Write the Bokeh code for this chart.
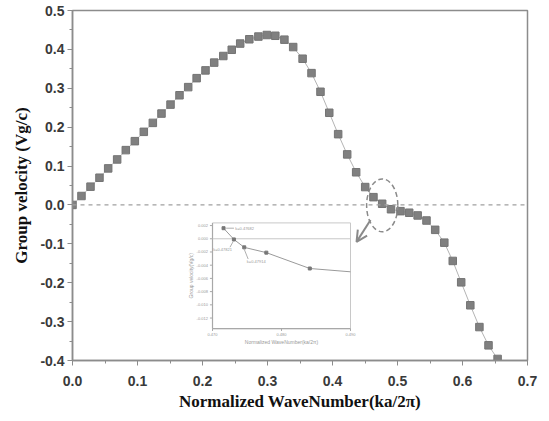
from bokeh.plotting import figure
from bokeh.models import Range1d, Span, Arrow, OpenHead, FixedTicker, NumeralTickFormatter, ColumnDataSource
from bokeh.core.properties import value
from bokeh.embed import file_html
from bokeh.resources import INLINE

# ---- main data ----
wavenumber = [0.0, 0.0138, 0.0277, 0.0415, 0.0549, 0.0687, 0.082, 0.0959, 0.1097, 0.1236,
              0.1369, 0.1508, 0.1646, 0.178, 0.191, 0.2046, 0.218, 0.232, 0.245, 0.258,
              0.272, 0.286, 0.299, 0.312, 0.326, 0.3395, 0.354, 0.3677, 0.3815, 0.395,
              0.4087, 0.4226, 0.4364, 0.4503, 0.463, 0.4764, 0.490, 0.5046, 0.518, 0.531,
              0.5446, 0.558, 0.572, 0.585, 0.598, 0.612, 0.626, 0.640, 0.654]
group_velocity = [0.0, 0.023, 0.047, 0.070, 0.094, 0.117, 0.141, 0.164, 0.188, 0.211,
                  0.235, 0.258, 0.282, 0.303, 0.326, 0.346, 0.366, 0.383, 0.399, 0.415,
                  0.426, 0.433, 0.437, 0.435, 0.425, 0.406, 0.376, 0.339, 0.291, 0.237,
                  0.182, 0.130, 0.084, 0.046, 0.020, 0.003, -0.011, -0.016, -0.020, -0.027,
                  -0.040, -0.064, -0.097, -0.144, -0.199, -0.258, -0.314, -0.361, -0.396]
x_ticks = [0.0, 0.1, 0.2, 0.3, 0.4, 0.5, 0.6, 0.7]
x_minor = [0.05, 0.15, 0.25, 0.35, 0.45, 0.55, 0.65]
y_ticks = [-0.4, -0.3, -0.2, -0.1, 0.0, 0.1, 0.2, 0.3, 0.4, 0.5]
y_minor = [-0.35, -0.25, -0.15, -0.05, 0.05, 0.15, 0.25, 0.35, 0.45]

# ---- inset data (zoom of the zero crossing) ----
inset_x = [0.4716, 0.4731, 0.4746, 0.4778, 0.4841, 0.4900]
inset_y = [0.0016, -0.0001, -0.0013, -0.0021, -0.0045, -0.0050]
inset_marked = [True, True, True, True, True, False]
inset_xticks = [0.470, 0.480, 0.490]
inset_yticks = [0.002, 0.000, -0.002, -0.004, -0.006, -0.008, -0.010, -0.012]
inset_point_labels = ["k=0.47682", "k=0.47821", "k=0.47914"]
inset_xlim = (0.470, 0.490)
inset_ylim = (-0.0136, 0.0024)

p = figure(width=541, height=413, x_range=Range1d(0, 0.7), y_range=Range1d(-0.4, 0.5),
           output_backend="svg", toolbar_location=None,
           min_border_left=72, min_border_right=14, min_border_top=10, min_border_bottom=51)

p.xgrid.visible = False
p.ygrid.visible = False
p.outline_line_color = "#8c8c8c"
p.outline_line_width = 1.5
p.background_fill_color = "white"
p.border_fill_color = "white"

p.xaxis.ticker = FixedTicker(ticks=x_ticks, minor_ticks=x_minor)
p.yaxis.ticker = FixedTicker(ticks=y_ticks, minor_ticks=y_minor)
p.xaxis.formatter = NumeralTickFormatter(format="0.0")
p.yaxis.formatter = NumeralTickFormatter(format="0.0")

for ax in (p.xaxis[0], p.yaxis[0]):
    ax.axis_line_color = "#8c8c8c"
    ax.axis_line_width = 1.5
    ax.major_tick_line_color = "#8c8c8c"
    ax.minor_tick_line_color = "#8c8c8c"
    ax.major_tick_out = 5
    ax.major_tick_in = 0
    ax.minor_tick_out = 3
    ax.minor_tick_in = 0
    ax.major_label_text_font = "Liberation Sans"
    ax.major_label_text_font_style = "bold"
    ax.major_label_text_font_size = "14px"
    ax.major_label_text_color = "#3a3a3a"
    ax.axis_label_text_font = "Liberation Serif"
    ax.axis_label_text_font_style = "bold"
    ax.axis_label_text_font_size = "17px"
    ax.axis_label_text_color = "#111111"

p.xaxis.axis_label = "Normalized WaveNumber(ka/2π)"
p.yaxis.axis_label = "Group velocity (Vg/c)"
p.xaxis.major_label_standoff = 10
p.xaxis.axis_label_standoff = 3
p.yaxis.major_label_standoff = 3
p.yaxis.axis_label_standoff = 6

# zero reference line
p.add_layout(Span(location=0, dimension="width", line_color="#a0a0a0",
                  line_dash="4 4", line_width=1.2))

# main curve
src = ColumnDataSource(dict(x=wavenumber, y=group_velocity))
p.line("x", "y", source=src, line_color="#b4b4b4", line_width=1)
p.scatter("x", "y", source=src, marker="square", size=7.5,
          fill_color="#808080", line_color="#747474")

# dashed ellipse highlighting the zero crossing
p.ellipse(x=[0.4765], y=[-0.001], width=[0.048], height=[0.136],
          fill_color=None, line_color="#8a8a8a", line_dash="5 3", line_width=1.5)

# arrow from ellipse to inset
p.add_layout(Arrow(end=OpenHead(size=11, line_color="#8a8a8a", line_width=2),
                   x_start=0.4585, y_start=-0.0385, x_end=0.437, y_end=-0.095,
                   line_color="#8a8a8a", line_width=2))

# ---- inset placed in main data coordinates ----
BX0, BX1 = 0.2154, 0.4277
BY0, BY1 = -0.318, -0.0462

def ix(v):
    return [BX0 + (a - inset_xlim[0]) / (inset_xlim[1] - inset_xlim[0]) * (BX1 - BX0) for a in v]

def iy(v):
    return [BY0 + (a - inset_ylim[0]) / (inset_ylim[1] - inset_ylim[0]) * (BY1 - BY0) for a in v]

# frame
p.quad(left=[BX0], right=[BX1], bottom=[BY0], top=[BY1], fill_color="white",
       line_color="#c8c8c8", line_width=1)
p.segment(x0=[BX0, BX0], y0=[BY0, BY0], x1=[BX0, BX1], y1=[BY1, BY0],
          line_color="#a8a8a8", line_width=1.2)
# inset zero line
p.segment(x0=[BX0], y0=iy([0.0]), x1=[BX1], y1=iy([0.0]), line_color="#c8c8c8", line_width=1)
# inset ticks
tx = ix(inset_xticks)
p.segment(x0=tx, y0=[BY0] * len(tx), x1=tx, y1=[BY0 - 0.006] * len(tx), line_color="#a8a8a8")
ty = iy(inset_yticks)
p.segment(x0=[BX0] * len(ty), y0=ty, x1=[BX0 - 0.004] * len(ty), y1=ty, line_color="#a8a8a8")
p.text(x=tx, y=[BY0 - 0.012] * len(tx), text=[f"{t:.3f}" for t in inset_xticks],
       text_font_size="4px", text_color="#999999", text_align="center", text_baseline="top",
       text_font=value("Liberation Sans"))
p.text(x=[BX0 - 0.007] * len(ty), y=ty, text=[f"{t:.3f}" for t in inset_yticks],
       text_font_size="4px", text_color="#999999", text_align="right", text_baseline="middle",
       text_font=value("Liberation Sans"))
p.text(x=[(BX0 + BX1) / 2], y=[BY0 - 0.035], text=["Normalized WaveNumber(ka/2π)"],
       text_font_size="5px", text_color="#999999", text_align="center", text_baseline="middle",
       text_font=value("Liberation Sans"))
p.text(x=[BX0 - 0.033], y=[(BY0 + BY1) / 2], text=["Group velocity(Vg/c)"], angle=[1.5708],
       text_font_size="5px", text_color="#999999", text_align="center", text_baseline="middle",
       text_font=value("Liberation Sans"))

# inset curve
isrc = ColumnDataSource(dict(x=ix(inset_x), y=iy(inset_y)))
p.line("x", "y", source=isrc, line_color="#9a9a9a", line_width=1)
mx = [a for a, m in zip(ix(inset_x), inset_marked) if m]
my = [b for b, m in zip(iy(inset_y), inset_marked) if m]
p.scatter(mx, my, marker="square", size=3, fill_color="#777777", line_color="#777777")

# inset point labels
lx = ix(inset_x[:3])
ly = iy(inset_y[:3])
p.segment(x0=[lx[0] + 0.004, lx[1] - 0.001, lx[2]], y0=[ly[0], ly[1] - 0.005, ly[2] - 0.005],
          x1=[lx[0] + 0.016, lx[1] - 0.006, lx[2] + 0.006], y1=[ly[0], ly[1] - 0.02, ly[2] - 0.03],
          line_color="#9a9a9a", line_width=0.8)
p.text(x=[lx[0] + 0.018, lx[1] - 0.003, lx[2] + 0.004],
       y=[ly[0], ly[1] - 0.026, ly[2] - 0.037], text=inset_point_labels,
       text_font_size="4px", text_color="#999999",
       text_align=["left", "right", "left"], text_baseline="middle",
       text_font=value("Liberation Sans"))

open("out.html", "w").write(file_html(p, INLINE))
